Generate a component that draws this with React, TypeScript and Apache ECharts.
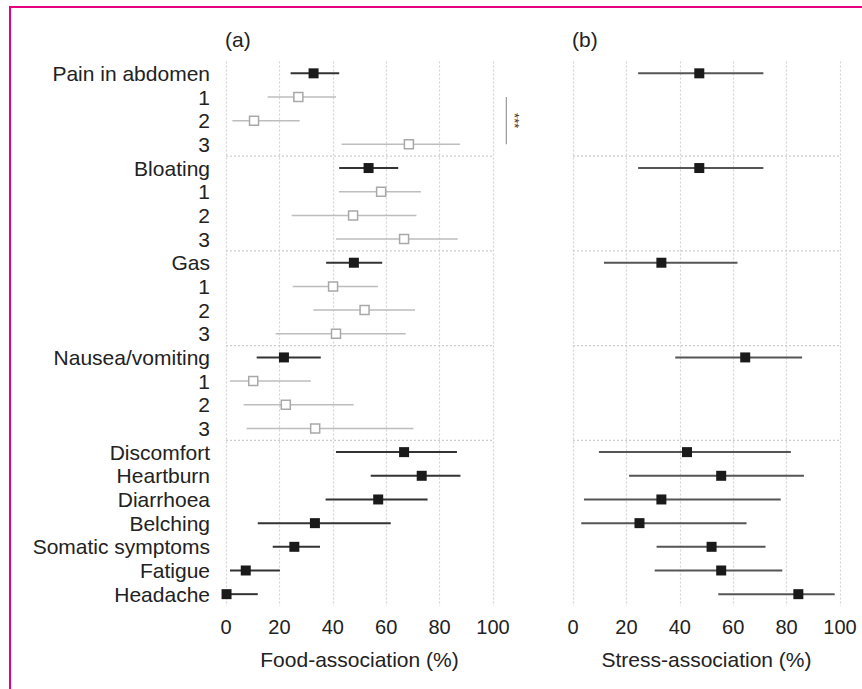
import React, { useEffect, useRef } from "react";
import * as echarts from "echarts";

const categories = [
  "Pain in abdomen", "1", "2", "3",
  "Bloating", "1", "2", "3",
  "Gas", "1", "2", "3",
  "Nausea/vomiting", "1", "2", "3",
  "Discomfort", "Heartburn", "Diarrhoea", "Belching",
  "Somatic symptoms", "Fatigue", "Headache",
];
// 1 = subgroup row (grey hollow), 0 = main row
const isSub = [0, 1, 1, 1, 0, 1, 1, 1, 0, 1, 1, 1, 0, 1, 1, 1, 0, 0, 0, 0, 0, 0, 0];

const foodMean = [32.8, 27.1, 10.5, 68.5, 53.4, 58.1, 47.6, 66.7, 47.9, 40.1, 51.9, 41.2, 21.7, 10.2, 22.4, 33.4, 66.7, 73.3, 57.0, 33.3, 25.6, 7.4, 0.2];
const foodLow = [24.2, 15.6, 2.4, 43.3, 42.4, 42.3, 24.6, 41.2, 37.5, 25.0, 32.7, 18.6, 11.5, 1.5, 6.6, 7.7, 41.2, 54.2, 37.3, 11.9, 17.5, 1.5, 0];
const foodHigh = [42.4, 41.2, 27.6, 87.6, 64.5, 73.0, 71.3, 86.8, 58.5, 56.9, 70.8, 67.3, 35.5, 31.8, 47.8, 70.2, 86.5, 87.8, 75.5, 61.7, 35.2, 20.2, 11.9];

const stressMean = [47.3, null, null, null, 47.3, null, null, null, 33.1, null, null, null, 64.5, null, null, null, 42.7, 55.5, 33.1, 24.9, 51.9, 55.5, 84.4];
const stressLow = [24.4, null, null, null, 24.4, null, null, null, 11.6, null, null, null, 38.3, null, null, null, 9.7, 21.0, 4.1, 3.1, 31.3, 30.6, 54.4];
const stressHigh = [71.3, null, null, null, 71.3, null, null, null, 61.6, null, null, null, 85.8, null, null, null, 81.6, 86.5, 77.8, 65.0, 72.1, 78.4, 98.0];

const xTicks = [0, 20, 40, 60, 80, 100];
const groupBreaks = [3, 7, 11, 15]; // separator after these rows
const sigRows = [1, 3];
const sigLabel = "***";

const FONT = "'Liberation Sans', Arial, Helvetica, sans-serif";
const TXT = "#222";

function makeBarSeries(xIdx: number, low: (number | null)[], high: (number | null)[], mainColor: string) {
  const data: any[] = [];
  low.forEach((l, i) => {
    if (l != null && high[i] != null) data.push([l, high[i], i, isSub[i]]);
  });
  return {
    type: "custom",
    xAxisIndex: xIdx,
    yAxisIndex: xIdx,
    data,
    z: 3,
    renderItem: (params: any, api: any) => {
      const p1 = api.coord([api.value(0), api.value(2)]);
      const p2 = api.coord([api.value(1), api.value(2)]);
      const sub = api.value(3) === 1;
      return {
        type: "line",
        shape: { x1: p1[0], y1: p1[1], x2: p2[0], y2: p2[1] },
        style: { stroke: sub ? "#bdbdbd" : mainColor, lineWidth: sub ? 1.5 : 2 },
      };
    },
  };
}

function makeSepSeries(xIdx: number) {
  return {
    type: "custom",
    xAxisIndex: xIdx,
    yAxisIndex: xIdx,
    data: groupBreaks.map((b) => [b]),
    z: 1,
    renderItem: (params: any, api: any) => {
      const r = api.value(0);
      const a = api.coord([xTicks[0], r]);
      const b = api.coord([xTicks[xTicks.length - 1], r + 1]);
      const y = (a[1] + b[1]) / 2;
      return {
        type: "line",
        shape: { x1: a[0], y1: y, x2: b[0], y2: y },
        style: { stroke: "#cccccc", lineWidth: 1.2, lineDash: [2, 2] },
      };
    },
  };
}

function makePointSeries(xIdx: number, mean: (number | null)[], sub: boolean) {
  const data: any[] = [];
  mean.forEach((m, i) => {
    if (m != null && (isSub[i] === 1) === sub) data.push([m, i]);
  });
  return {
    type: "scatter",
    xAxisIndex: xIdx,
    yAxisIndex: xIdx,
    data,
    z: 5,
    symbol: "rect",
    symbolSize: sub ? 9 : 10,
    itemStyle: sub
      ? { color: "#ffffff", borderColor: "#a8a8a8", borderWidth: 1.5, opacity: 1 }
      : { color: "#1a1a1a", opacity: 1 },
  };
}

export default function App() {
  const ref = useRef<HTMLDivElement>(null);
  useEffect(() => {
    if (!ref.current) return;
    const chart = echarts.init(ref.current, null, { renderer: "svg" });
    const xAxisCommon = {
      type: "value",
      min: 0,
      max: 100,
      interval: 20,
      nameLocation: "middle",
      nameGap: 43,
      nameTextStyle: { fontSize: 21, color: TXT, fontFamily: FONT },
      axisLine: { show: false },
      axisTick: { show: false },
      axisLabel: { fontSize: 20, color: TXT, fontFamily: FONT, margin: 11 },
      splitLine: { show: true, lineStyle: { color: "#d2d2d2", type: [2, 2], width: 1.2 } },
    };
    const yAxisCommon = {
      type: "category",
      data: categories,
      inverse: true,
      axisLine: { show: false },
      axisTick: { show: false },
      splitLine: { show: false },
    };
    const option: any = {
      animation: false,
      backgroundColor: "#ffffff",
      textStyle: { fontFamily: FONT },
      title: [
        { text: "(a)", left: 225, top: 29, padding: 0, textStyle: { fontSize: 21, fontWeight: "normal", color: TXT, fontFamily: FONT } },
        { text: "(b)", left: 572, top: 29, padding: 0, textStyle: { fontSize: 21, fontWeight: "normal", color: TXT, fontFamily: FONT } },
      ],
      grid: [
        { left: 226, top: 61.5, width: 267, height: 544.5 },
        { left: 573, top: 61.5, width: 267, height: 544.5 },
      ],
      xAxis: [
        { ...xAxisCommon, gridIndex: 0, name: "Food-association (%)" },
        { ...xAxisCommon, gridIndex: 1, name: "Stress-association (%)" },
      ],
      yAxis: [
        {
          ...yAxisCommon,
          gridIndex: 0,
          axisLabel: { fontSize: 21, color: TXT, fontFamily: FONT, margin: 16, interval: 0 },
        },
        { ...yAxisCommon, gridIndex: 1, axisLabel: { show: false } },
      ],
      graphic: [
        { type: "line", shape: { x1: 9, y1: 7, x2: 862, y2: 7 }, style: { stroke: "#e5007e", lineWidth: 2 } },
        { type: "line", shape: { x1: 10, y1: 6, x2: 10, y2: 689 }, style: { stroke: "#e5007e", lineWidth: 2 } },
      ],
      series: [
        makeSepSeries(0),
        makeSepSeries(1),
        makeBarSeries(0, foodLow, foodHigh, "#333333"),
        makeBarSeries(1, stressLow, stressHigh, "#555555"),
        makePointSeries(0, foodMean, false),
        makePointSeries(0, foodMean, true),
        makePointSeries(1, stressMean, false),
        {
          type: "custom",
          xAxisIndex: 0,
          yAxisIndex: 0,
          clip: false,
          data: [[105, sigRows[0], sigRows[1]]],
          z: 4,
          renderItem: (params: any, api: any) => {
            const a = api.coord([api.value(0), api.value(1)]);
            const b = api.coord([api.value(0), api.value(2)]);
            const mid = (a[1] + b[1]) / 2;
            return {
              type: "group",
              children: [
                {
                  type: "line",
                  shape: { x1: a[0], y1: a[1], x2: b[0], y2: b[1] },
                  style: { stroke: "#999999", lineWidth: 1.2 },
                },
                {
                  type: "text",
                  x: a[0] + 8,
                  y: mid,
                  rotation: -Math.PI / 2,
                  style: {
                    text: sigLabel,
                    fill: "#333",
                    fontSize: 13,
                    fontFamily: FONT,
                    align: "center",
                    verticalAlign: "middle",
                  },
                },
              ],
            };
          },
        },
      ],
    };
    chart.setOption(option);
    return () => chart.dispose();
  }, []);
  return (
    <div
      ref={ref}
      style={{ position: "absolute", left: 0, top: 0, width: 862, height: 689 }}
    />
  );
}
